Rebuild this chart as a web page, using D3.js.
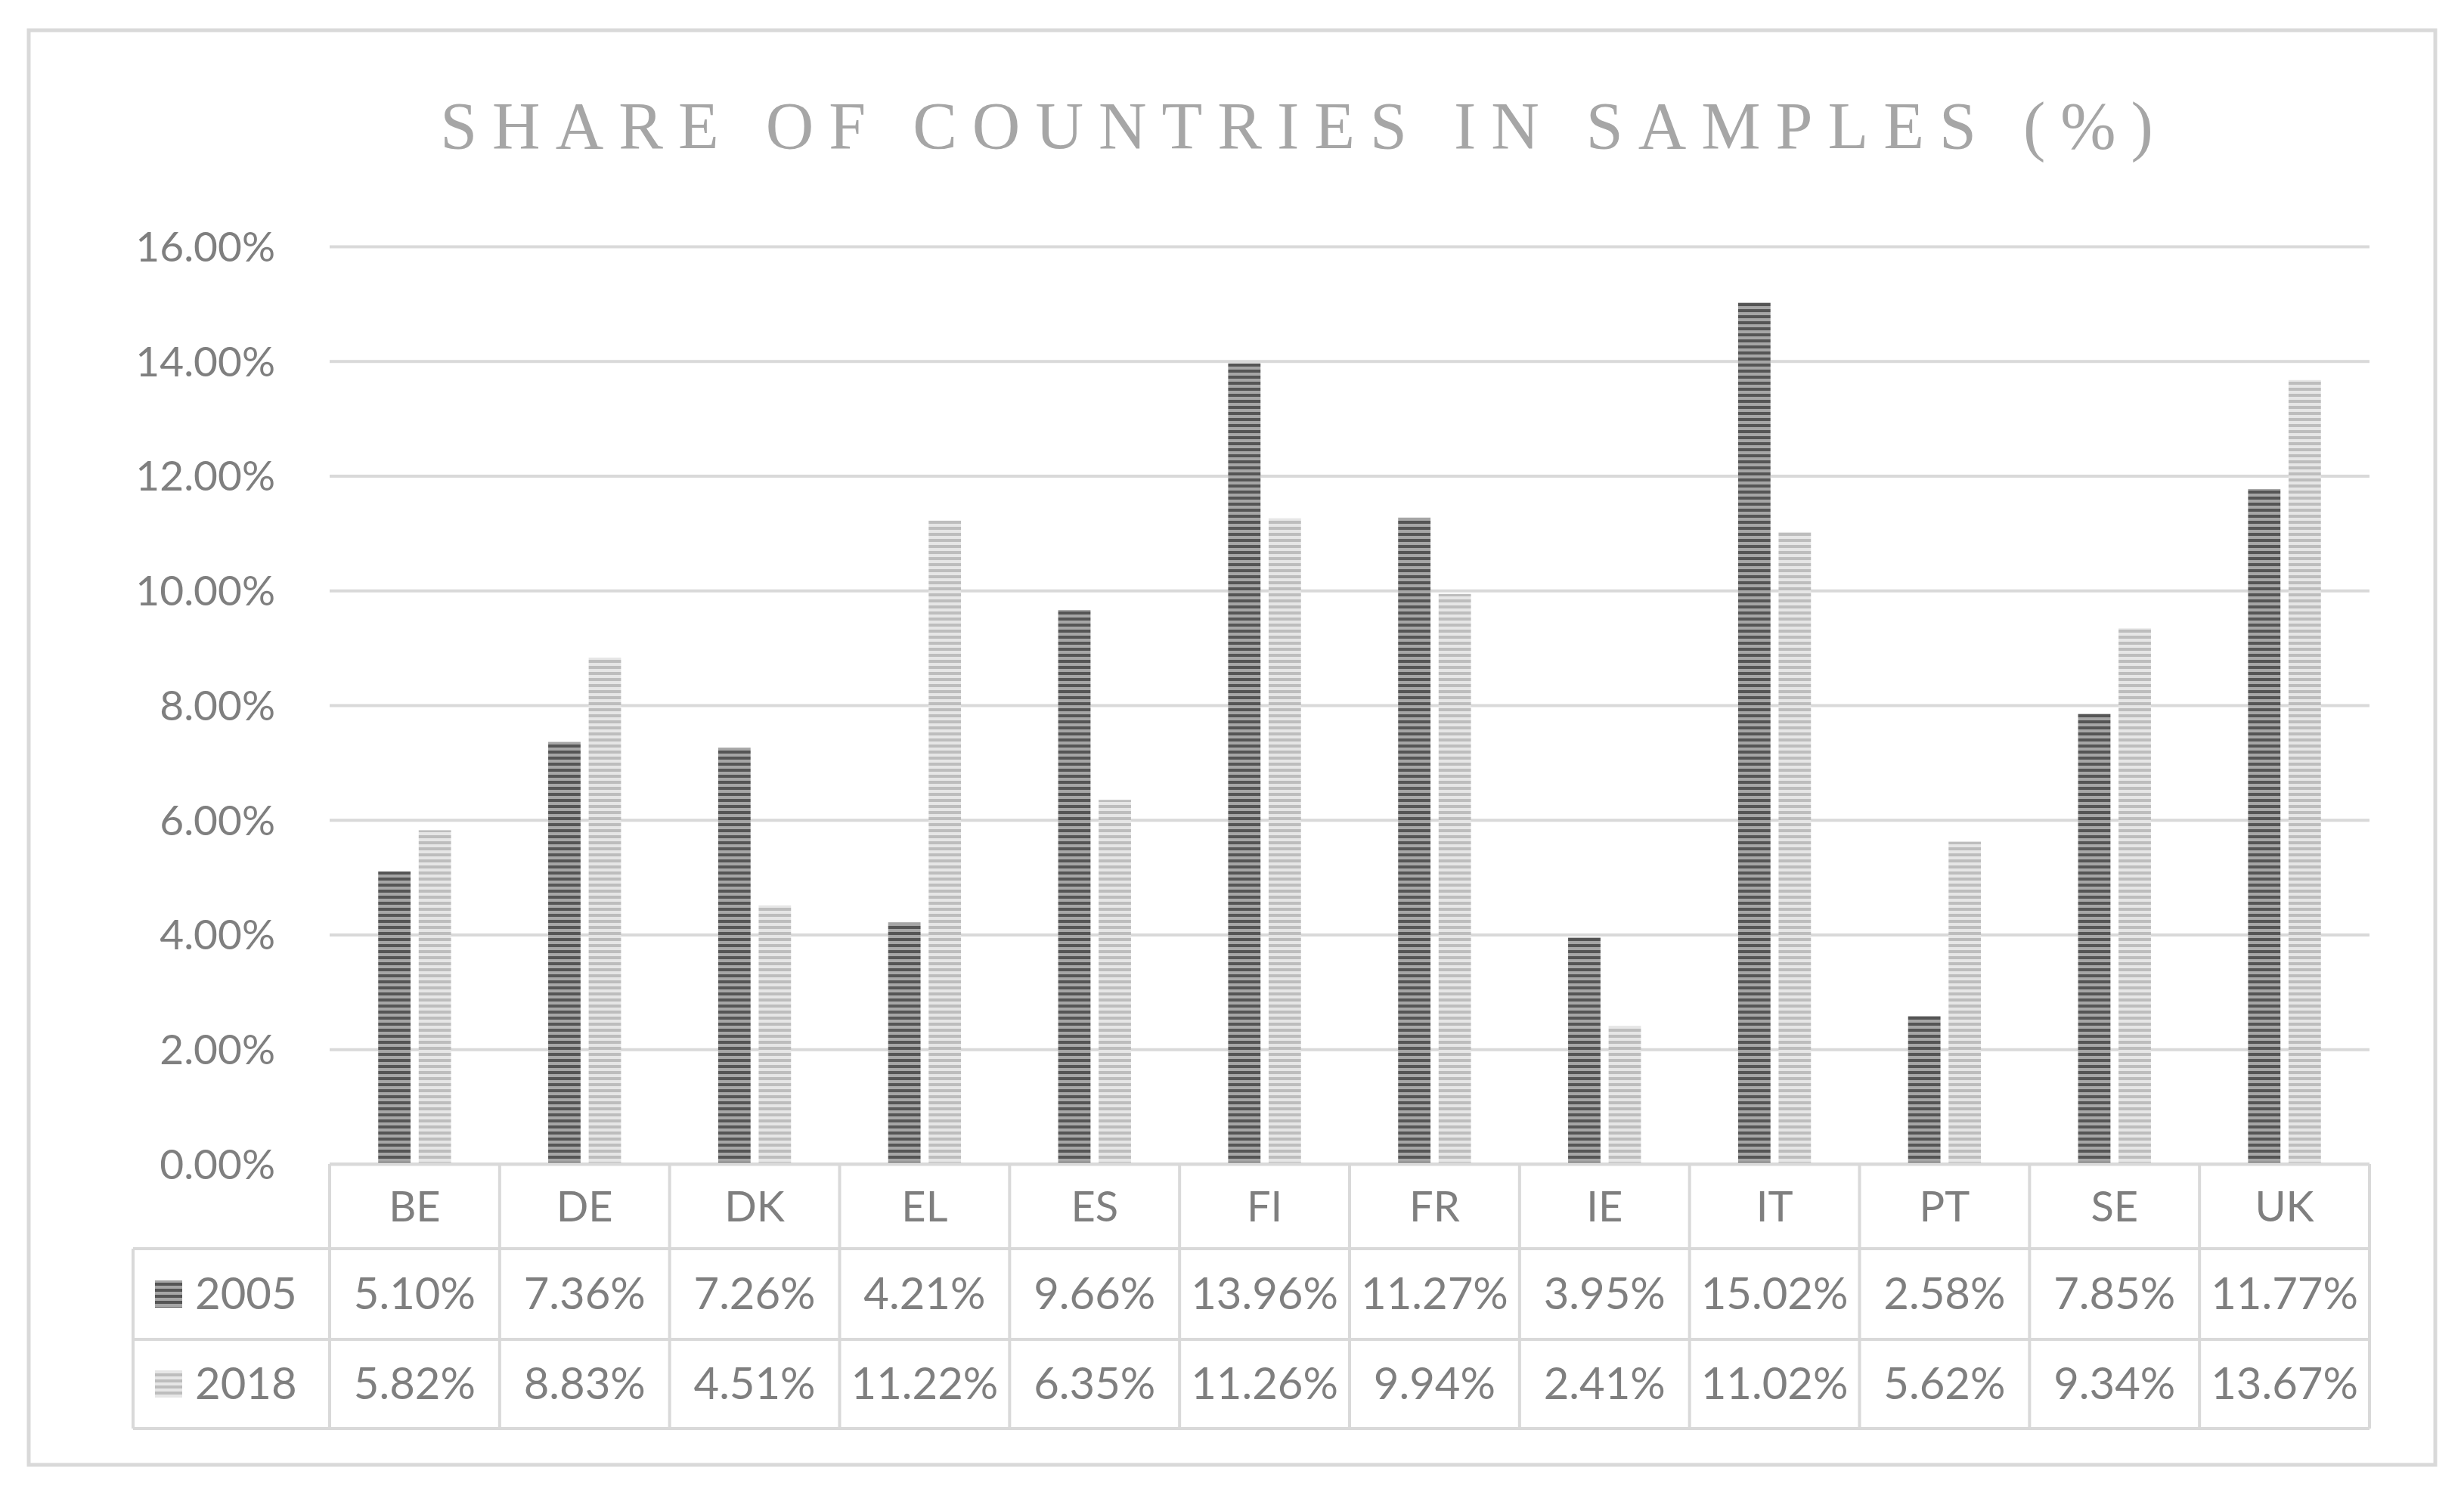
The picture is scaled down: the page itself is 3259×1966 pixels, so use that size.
<!DOCTYPE html>
<html>
<head>
<meta charset="utf-8">
<script src="https://cdn.jsdelivr.net/npm/d3@7"></script>
<style>
  body { margin: 0; background: #fff; }
  text { font-family: Lato, "Open Sans", sans-serif; fill: #7f7f7f; }
</style>
</head>
<body>
<svg id="chart" width="3259" height="1966"></svg>
<script>
  var countries = ['BE', 'DE', 'DK', 'EL', 'ES', 'FI', 'FR', 'IE', 'IT', 'PT', 'SE', 'UK'];
  var years = ['2005', '2018'];
  var share2005 = [5.10, 7.36, 7.26, 4.21, 9.66, 13.96, 11.27, 3.95, 15.02, 2.58, 7.85, 11.77];
  var share2018 = [5.82, 8.83, 4.51, 11.22, 6.35, 11.26, 9.94, 2.41, 11.02, 5.62, 9.34, 13.67];
  var yTicks = [0, 2, 4, 6, 8, 10, 12, 14, 16];

  var series = [share2005, share2018];
  var fills = ['url(#stripeDark)', 'url(#stripeLight)'];

  var svg = d3.select('#chart');
  var grid = '#d9d9d9';

  // stripe patterns for the bars
  var defs = svg.append('defs');
  function stripe(id, bg, fg) {
    var p = defs.append('pattern').attr('id', id)
      .attr('patternUnits', 'userSpaceOnUse').attr('width', 10).attr('height', 8);
    p.append('rect').attr('width', 10).attr('height', 8).attr('fill', bg);
    p.append('rect').attr('y', 1).attr('width', 10).attr('height', 4).attr('fill', fg);
  }
  stripe('stripeDark', '#a6a6a6', '#555');
  stripe('stripeLight', '#e6e6e6', '#bdbdbd');

  // outer frame
  svg.append('rect').attr('x', 38).attr('y', 40).attr('width', 3183).attr('height', 1898)
    .attr('fill', 'none').attr('stroke', grid).attr('stroke-width', 5);

  svg.append('text').attr('x', 1725).attr('y', 196).attr('text-anchor', 'middle')
    .style('font-family', '"Liberation Serif", serif').style('fill', '#a6a6a6')
    .style('font-size', '88px').style('letter-spacing', '20px')
    .text('SHARE OF COUNTRIES IN SAMPLES (%)');

  var plotLeft = 436, plotRight = 3134, plotTop = 326, plotBottom = 1540;

  var x = d3.scaleBand().domain(countries).range([plotLeft, plotRight]);
  var y = d3.scaleLinear().domain([0, 16]).range([plotBottom, plotTop]);
  var xs = d3.scaleBand().domain(years).range([0, x.bandwidth()]).paddingInner(0.2).paddingOuter(1.2);

  // gridlines and y axis
  var yAxis = d3.axisLeft(y).tickValues(yTicks).tickSize(-(plotRight - plotLeft))
    .tickFormat(function(d) { return d.toFixed(2) + '%'; });
  var ya = svg.append('g').attr('transform', 'translate(' + plotLeft + ',0)').call(yAxis);
  ya.select('.domain').remove();
  ya.selectAll('line').attr('stroke', grid).attr('stroke-width', 4);
  ya.selectAll('text').attr('x', -72).attr('dy', '0.35em')
    .style('font-size', '55px').style('fill', '#7f7f7f');

  // bars
  series.forEach(function(vals, s) {
    svg.append('g').selectAll('rect').data(vals).enter().append('rect')
      .attr('x', function(d, i) { return x(countries[i]) + xs(years[s]); })
      .attr('y', function(d) { return y(d); })
      .attr('width', xs.bandwidth())
      .attr('height', function(d) { return plotBottom - y(d); })
      .attr('fill', fills[s]);
  });

  // data table
  var rowH = [112, 120, 118];
  var tableLeft = 176;
  var rowY = [plotBottom, plotBottom + rowH[0], plotBottom + rowH[0] + rowH[1], plotBottom + rowH[0] + rowH[1] + rowH[2]];
  var t = svg.append('g');
  t.append('line').attr('x1', plotLeft).attr('x2', plotRight).attr('y1', plotBottom).attr('y2', plotBottom);
  [1, 2, 3].forEach(function(r) {
    t.append('line').attr('x1', tableLeft).attr('x2', plotRight).attr('y1', rowY[r]).attr('y2', rowY[r]);
  });
  t.append('line').attr('x1', tableLeft).attr('x2', tableLeft).attr('y1', rowY[1]).attr('y2', rowY[3]);
  countries.concat(['end']).forEach(function(c, i) {
    var xx = plotLeft + i * x.bandwidth();
    t.append('line').attr('x1', xx).attr('x2', xx).attr('y1', plotBottom).attr('y2', rowY[3]);
  });
  t.selectAll('line').attr('stroke', grid).attr('stroke-width', 4);

  svg.append('g').selectAll('text').data(countries).enter().append('text')
    .attr('x', function(d) { return x(d) + x.bandwidth() / 2; })
    .attr('y', (rowY[0] + rowY[1]) / 2).attr('dy', '0.35em')
    .attr('text-anchor', 'middle').style('font-size', '56px')
    .text(function(d) { return d; });

  series.forEach(function(vals, s) {
    var cy = (rowY[s + 1] + rowY[s + 2]) / 2;
    svg.append('g').selectAll('text').data(vals).enter().append('text')
      .attr('x', function(d, i) { return x(countries[i]) + x.bandwidth() / 2; })
      .attr('y', cy).attr('dy', '0.35em')
      .attr('text-anchor', 'middle').style('font-size', '58px')
      .text(function(d) { return d.toFixed(2) + '%'; });
    svg.append('rect').attr('x', 205).attr('y', cy - 18).attr('width', 36).attr('height', 36)
      .attr('fill', fills[s]);
    svg.append('text').attr('x', 258).attr('y', cy).attr('dy', '0.35em')
      .style('font-size', '58px').text(years[s]);
  });
</script>
</body>
</html>
